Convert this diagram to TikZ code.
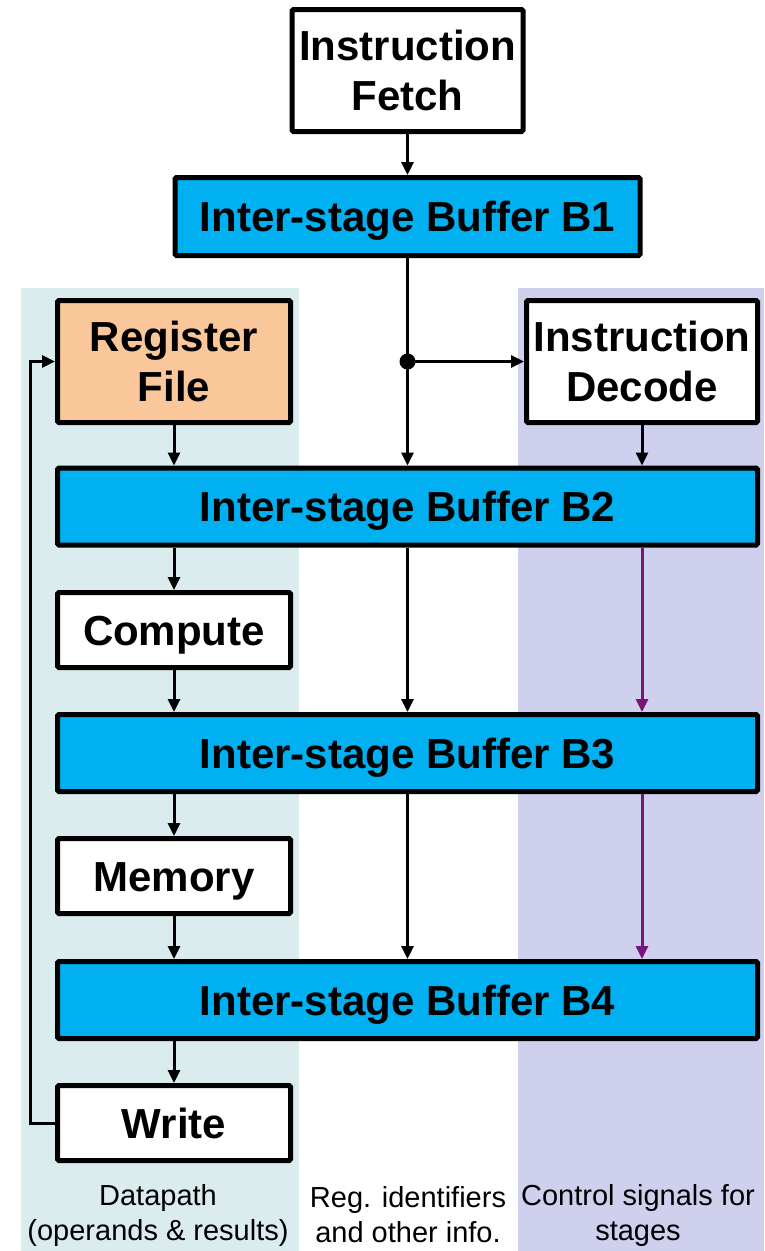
\documentclass[tikz,border=0pt]{standalone}
\usepackage{fontspec}
\setmainfont{Liberation Sans}
\usetikzlibrary{arrows.meta}

\definecolor{bufblue}{HTML}{00B0F0}
\definecolor{regpeach}{HTML}{FAC79A}
\definecolor{dpteal}{HTML}{DAECEE}
\definecolor{ctlviolet}{HTML}{CFCFEE}
\definecolor{ctlpurple}{HTML}{7A1577}

\begin{document}
\begin{tikzpicture}[x=1pt, y=-1pt,
  stage/.style={draw, line width=5pt, rounded corners=1.5pt, fill=white, align=center, inner sep=0pt,
    text height=30pt, text depth=0pt,
    minimum width=233pt, minimum height=75pt, font=\fontsize{42}{50}\selectfont\bfseries},
  twoline/.style={text height=80pt, minimum height=122pt},
  buffer/.style={stage, fill=bufblue, minimum width=700pt, minimum height=77pt},
  flow/.style={line width=3pt, -{Triangle[length=13pt,width=12pt]}},
  ctl/.style={flow, color=ctlpurple},
  caption/.style={align=center, font=\fontsize{29}{35}\selectfont}]
\useasboundingbox (0,0) rectangle (764,1251);

% background bands
\fill[dpteal] (21,288) rectangle (299,1251);
\fill[ctlviolet] (518,288) rectangle (764,1251);

% stages and buffers
\node[stage, twoline, minimum width=231pt] (fetch) at (407.5,70.5) {Instruction\\Fetch};
\node[buffer, minimum width=465pt, minimum height=78pt] (b1) at (407.5,216.5) {Inter-stage Buffer B1};
\node[stage, twoline, fill=regpeach] (regfile) at (174,361.5) {Register\\File};
\node[stage, twoline, minimum width=231pt] (decode) at (642,361.5) {Instruction\\Decode};
\node[buffer] (b2) at (407.5,506.5) {Inter-stage Buffer B2};
\node[stage] (compute) at (174,630) {Compute};
\node[buffer] (b3) at (407.5,753) {Inter-stage Buffer B3};
\node[stage] (memory) at (174,876) {Memory};
\node[buffer] (b4) at (407.5,1000) {Inter-stage Buffer B4};
\node[stage] (write) at (174,1123) {Write};

% connectors
\draw[flow] (fetch.south) -- (b1.north);
\draw[flow] (b1.south) -- (b2.north);
\coordinate (tap) at (b1.south |- decode.west);
\fill (tap) circle (8pt);
\draw[flow] (tap) -- (decode.west);
\draw[flow] (regfile.south) -- (regfile.south |- b2.north);
\draw[flow] (decode.south) -- (decode.south |- b2.north);

\draw[flow] (b2.south -| compute.north) -- (compute.north);
\draw[flow] (compute.south) -- (compute.south |- b3.north);
\draw[flow] (b2.south) -- (b3.north);
\draw[ctl] (b2.south -| decode.south) -- (decode.south |- b3.north);

\draw[flow] (b3.south -| memory.north) -- (memory.north);
\draw[flow] (memory.south) -- (memory.south |- b4.north);
\draw[flow] (b3.south) -- (b4.north);
\draw[ctl] (b3.south -| decode.south) -- (decode.south |- b4.north);

\draw[flow] (b4.south -| write.north) -- (write.north);
\draw[flow] (write.west) -- ++(-25,0) |- (regfile.west);

% column captions
\node[caption] (dpcap) at (158,1215) {Datapath\\(operands \& results)};
\node[caption] (regcap) at (408,1215) {Reg. identifiers\\and other info.};
\node[caption] (ctlcap) at (638,1215) {Control signals for\\stages};
\end{tikzpicture}
\end{document}
